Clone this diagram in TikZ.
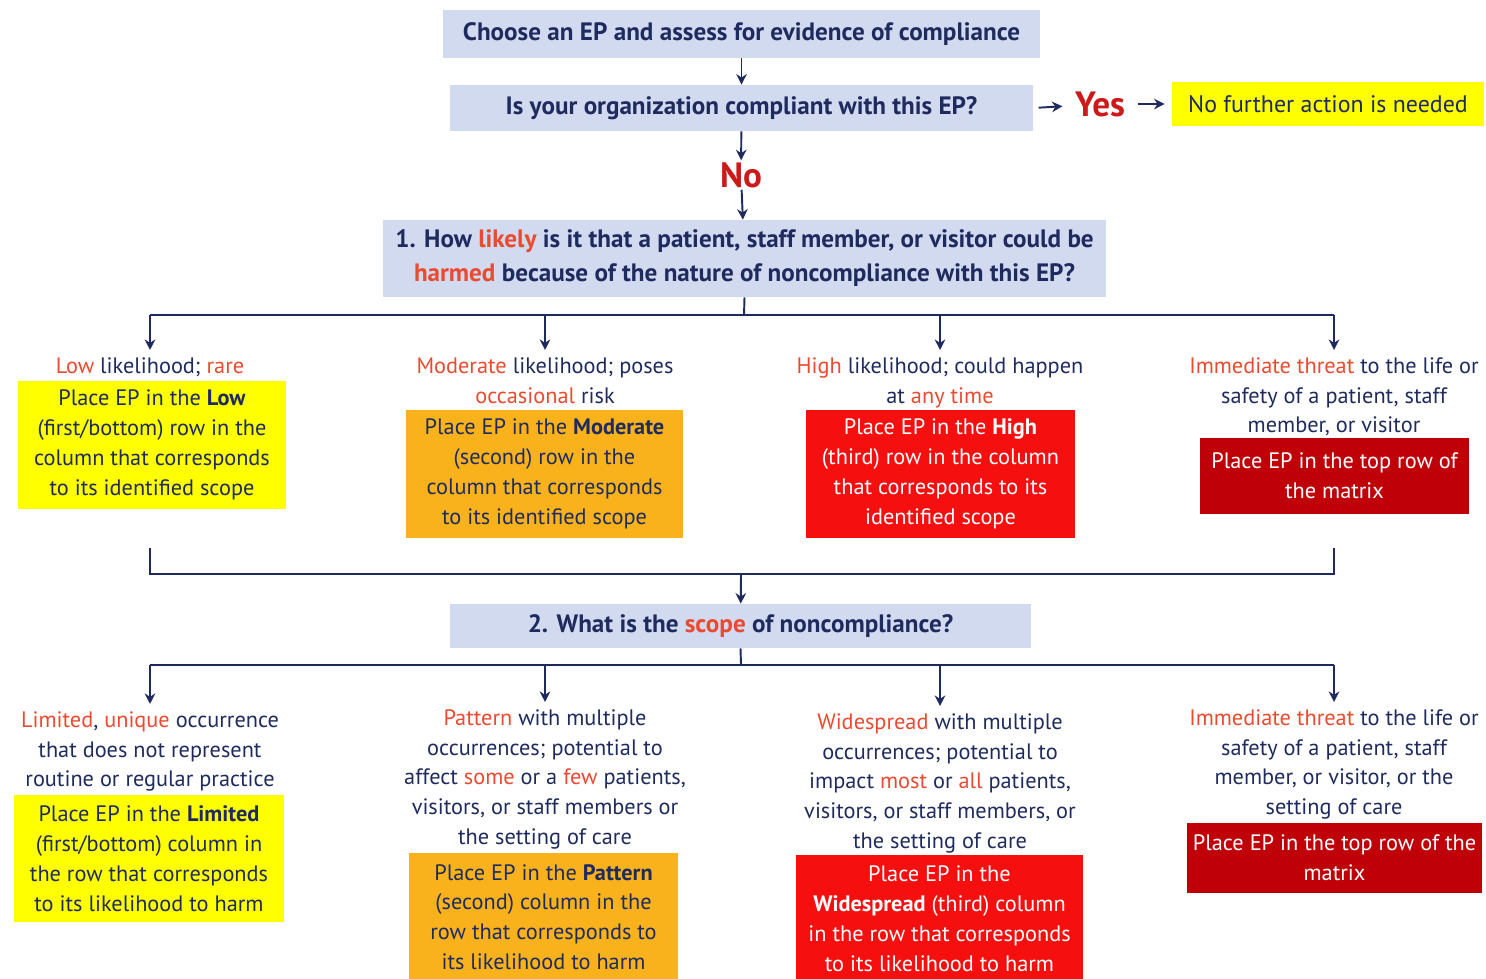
\documentclass[tikz,border=0pt]{standalone}
\usepackage{fontspec}
\setmainfont{PT Sans}
\usetikzlibrary{arrows.meta}

\definecolor{navy}{HTML}{1F2B5E}
\definecolor{qblue}{HTML}{D2DAF0}
\definecolor{hlred}{HTML}{EA4A30}
\definecolor{yesred}{HTML}{CC1A1A}
\definecolor{ylw}{HTML}{FFFF00}
\definecolor{amber}{HTML}{F9B21C}
\definecolor{brightred}{HTML}{F50F0F}
\definecolor{darkred}{HTML}{C00008}

\newcommand{\redw}[1]{\textcolor{hlred}{#1}}

\tikzset{
  body/.style={font=\fontsize{12.7}{17}\selectfont},
  qbox/.style={fill=qblue, text=navy, inner sep=0pt, align=center,
    font=\fontsize{14.3}{19.3}\selectfont\bfseries},
  lbl/.style={body, text=navy, align=center, inner sep=0pt, anchor=north},
  pbox/.style={body, inner sep=0pt, align=center},
  ybox/.style={pbox, fill=ylw, text=navy},
  obox/.style={pbox, fill=amber, text=navy},
  rbox/.style={pbox, fill=brightred, text=white},
  dbox/.style={pbox, fill=darkred, text=white},
  yesno/.style={text=yesred, inner sep=1pt, font=\fontsize{20}{22}\selectfont\bfseries},
  link/.style={navy, line width=1.1pt},
  arr/.style={link, -{Stealth[length=6pt, width=6pt]}}
}

\begin{document}
\begin{tikzpicture}[x=0.02cm, y=-0.02cm]
  \useasboundingbox (0,0) rectangle (1486,978);
  \clip (0,0) rectangle (1486,978);

  % Top questions
  \node[qbox, minimum width=11.94cm, minimum height=0.96cm] (q1) at (741.5,34)
    {Choose an EP and assess for evidence of compliance};
  \node[qbox, minimum width=11.66cm, minimum height=0.92cm] (q2) at (741.5,108)
    {Is your organization compliant with this EP?};
  \node[yesno] (yes) at (1100,104) {Yes};
  \node[fill=ylw, text=navy, minimum width=6.24cm, minimum height=0.88cm,
    inner sep=0pt, font=\fontsize{13.6}{17}\selectfont] (done) at (1328,104)
    {No further action is needed};
  \node[yesno] (no) at (741,175) {No};
  \node[qbox, minimum width=14.46cm, minimum height=1.54cm] (q3) at (744.5,258.5)
    {1. How \redw{likely} is it that a patient, staff member, or visitor could be\\
     \redw{harmed} because of the nature of noncompliance with this EP?};

  \draw[arr] (q1) -- (q2);
  \draw[arr, shorten <=3pt, shorten >=6pt] (q2.east) -- (yes);
  \draw[arr, shorten <=6pt, shorten >=4pt] (yes) -- (done);
  \draw[arr] (q2) -- (no);
  \draw[arr] (no) -- (q3);

  % Likelihood labels
  \node[lbl] (l1) at (150,357) {\redw{Low} likelihood; \redw{rare}};
  \node[lbl] (l2) at (545,357) {\redw{Moderate} likelihood; poses\\ \redw{occasional} risk};
  \node[lbl] (l3) at (940,357) {\redw{High} likelihood; could happen\\ at \redw{any time}};
  \node[lbl] (l4) at (1334,357) {\redw{Immediate threat} to the life or\\
    safety of a patient, staff\\ member, or visitor};

  % Likelihood boxes
  \node[ybox, minimum width=5.36cm, minimum height=2.56cm] (a1) at (152,445)
    {Place EP in the \textbf{Low}\\ (first/bottom) row in the\\
     column that corresponds\\ to its identified scope};
  \node[obox, minimum width=5.54cm, minimum height=2.56cm] (a2) at (544.5,474)
    {Place EP in the \textbf{Moderate}\\ (second) row in the\\
     column that corresponds\\ to its identified scope};
  \node[rbox, minimum width=5.38cm, minimum height=2.56cm] (a3) at (940.5,474)
    {Place EP in the \textbf{High}\\ (third) row in the column\\
     that corresponds to its\\ identified scope};
  \node[dbox, minimum width=5.38cm, minimum height=1.52cm] (a4) at (1334.5,476)
    {Place EP in the top row of\\ the matrix};

  % Branch to likelihood columns
  \coordinate (j1) at (744,315);
  \foreach \i/\x in {1/150, 2/545, 3/940, 4/1334}
    \coordinate (t\i) at (\x,315);
  \draw[link] (q3.south) -- (j1);
  \draw[link] (t1) -- (t4);
  \foreach \i in {1,...,4}
    \draw[arr, shorten >=4pt] (t\i) -- (l\i.north);

  % Gather back to the scope question
  \coordinate (u1) at (150,548);
  \coordinate (u4) at (1334,548);
  \coordinate (m1) at (741,574);
  \draw[link] (u1) |- (m1) -| (u4);

  \node[qbox, minimum width=11.62cm, minimum height=0.88cm] (q4) at (740.5,626)
    {2. What is the \redw{scope} of noncompliance?};
  \draw[arr] (m1) -- (q4);

  % Scope labels
  \node[lbl] (s1) at (150,711) {\redw{Limited}, \redw{unique} occurrence\\
    that does not represent\\ routine or regular practice};
  \node[lbl] (s2) at (545,709) {\redw{Pattern} with multiple\\ occurrences; potential to\\
    affect \redw{some} or a \redw{few} patients,\\ visitors, or staff members or\\
    the setting of care};
  \node[lbl] (s3) at (940,713) {\redw{Widespread} with multiple\\ occurrences; potential to\\
    impact \redw{most} or \redw{all} patients,\\ visitors, or staff members, or\\
    the setting of care};
  \node[lbl] (s4) at (1334,709) {\redw{Immediate threat} to the life or\\
    safety of a patient, staff\\ member, or visitor, or the\\ setting of care};

  % Scope boxes
  \node[ybox, minimum width=5.4cm, minimum height=2.54cm] (b1) at (149,858.5)
    {Place EP in the \textbf{Limited}\\ (first/bottom) column in\\
     the row that corresponds\\ to its likelihood to harm};
  \node[obox, minimum width=5.38cm, minimum height=2.56cm] (b2) at (543.5,917)
    {Place EP in the \textbf{Pattern}\\ (second) column in the\\
     row that corresponds to\\ its likelihood to harm};
  \node[rbox, minimum width=5.74cm, minimum height=2.56cm] (b3) at (939.5,919)
    {Place EP in the\\ \textbf{Widespread} (third) column\\
     in the row that corresponds\\ to its likelihood to harm};
  \node[dbox, minimum width=5.9cm, minimum height=1.4cm] (b4) at (1334.5,858)
    {Place EP in the top row of the\\ matrix};

  % Branch to scope columns
  \coordinate (j2) at (741,665);
  \foreach \i/\x in {1/150, 2/545, 3/940, 4/1334}
    \coordinate (v\i) at (\x,665);
  \draw[link] (q4.south) -- (j2);
  \draw[link] (v1) -- (v4);
  \foreach \i in {1,...,4}
    \draw[arr, shorten >=4pt] (v\i) -- (s\i.north);

\end{tikzpicture}
\end{document}
